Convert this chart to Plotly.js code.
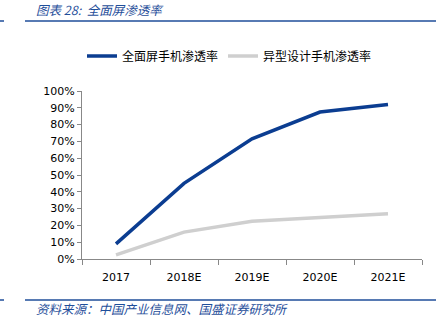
<!DOCTYPE html>
<html><head><meta charset="utf-8">
<script src="https://cdn.plot.ly/plotly-3.0.1.min.js"></script>
<style>body{margin:0;padding:0;background:#fff}#chart{width:436px;height:325px}</style>
</head><body><div id="chart"></div>
<script>
const categories = ['2017', '2018E', '2019E', '2020E', '2021E'];
const fullScreen = [0.09, 0.45, 0.715, 0.875, 0.92];
const specialDesign = [0.025, 0.16, 0.225, 0.25, 0.27];
const seriesNames = ['全面屏手机渗透率', '异型设计手机渗透率'];
const titleText = '图表 28:  全面屏渗透率';
const sourceText = '资料来源：中国产业信息网、国盛证券研究所';

const cjk = '"Noto Sans CJK SC", sans-serif';
const traces = [
  {x: categories, y: fullScreen, name: seriesNames[0], type: 'scatter', mode: 'lines',
   line: {color: '#0B3D91', width: 3.5}},
  {x: categories, y: specialDesign, name: seriesNames[1], type: 'scatter', mode: 'lines',
   line: {color: '#CFCFCF', width: 3.5}}
];
const layout = {
  width: 436, height: 325,
  margin: {l: 82, r: 14, t: 91, b: 66},
  paper_bgcolor: '#fff', plot_bgcolor: '#fff',
  showlegend: true,
  legend: {orientation: 'h', x: 0.0, xref: 'paper', yref: 'container', xanchor: 'left',
    font: {family: cjk, size: 12, color: '#000'}, itemwidth: 30, tracegroupgap: 0,
    yanchor: 'middle', y: 0.828},
  xaxis: {type: 'category', range: [-0.5, 4.5], showline: true, linecolor: '#888', linewidth: 1,
    ticks: 'outside', ticklen: 5, tickcolor: '#888', tickson: 'boundaries', showgrid: false,
    ticklabelstandoff: 8,
    tickfont: {family: 'DejaVu Sans, sans-serif', size: 11, color: '#000'}, fixedrange: true},
  yaxis: {range: [0, 1], dtick: 0.1, tickformat: '.0%', showline: true, linecolor: '#888', linewidth: 1,
    ticks: 'outside', ticklen: 4, tickcolor: '#888', showgrid: false, zeroline: false,
    tickfont: {family: 'DejaVu Sans, sans-serif', size: 11, color: '#000'}, fixedrange: true},
  shapes: [
    {type: 'line', xref: 'paper', yref: 'paper', x0: -82/340, x1: -78/340, y0: 1 + 70/168, y1: 1 + 70/168, line: {color: '#1F4E9A', width: 1.5}},
    {type: 'line', xref: 'paper', yref: 'paper', x0: -57/340, x1: 1 + 14/340, y0: 1 + 70/168, y1: 1 + 70/168, line: {color: '#1F4E9A', width: 1.5}},
    {type: 'line', xref: 'paper', yref: 'paper', x0: -82/340, x1: -78/340, y0: -41/168, y1: -41/168, line: {color: '#1F4E9A', width: 1.5}},
    {type: 'line', xref: 'paper', yref: 'paper', x0: -57/340, x1: 1 + 14/340, y0: -41/168, y1: -41/168, line: {color: '#1F4E9A', width: 1.5}}
  ],
  annotations: [
    {text: titleText, xref: 'paper', yref: 'paper', x: -48/340, y: 1 + 82/168, xanchor: 'left', yanchor: 'middle',
     showarrow: false, font: {family: cjk, size: 12.5, color: '#1F4E9A', style: 'italic'}},
    {text: sourceText, xref: 'paper', yref: 'paper', x: -48/340, y: -49/168, xanchor: 'left', yanchor: 'middle',
     showarrow: false, font: {family: cjk, size: 12.5, color: '#1F4E9A', style: 'italic'}}
  ]
};
Plotly.newPlot('chart', traces, layout, {displayModeBar: false, staticPlot: true});
</script></body></html>
